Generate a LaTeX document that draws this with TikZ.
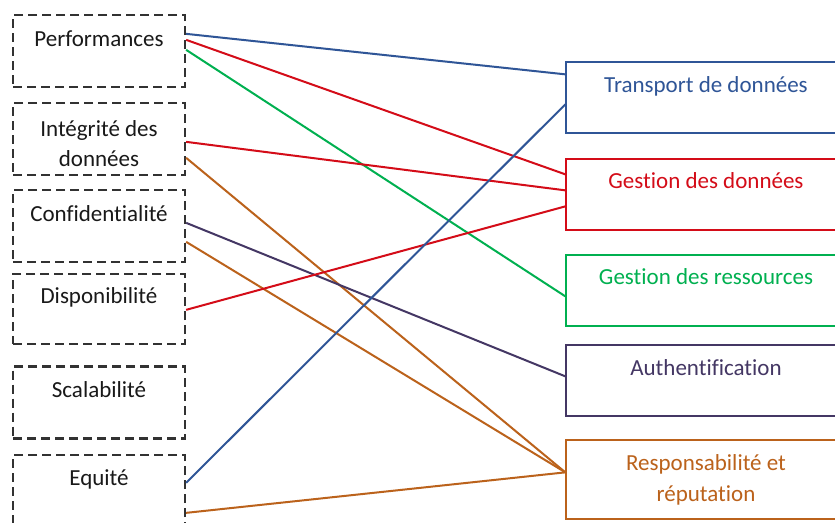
\documentclass[tikz,border=0pt]{standalone}
\usepackage{fontspec}
\setmainfont{Carlito}[Ligatures=NoCommon]
\definecolor{cblue}{RGB}{47,85,151}
\definecolor{cred}{RGB}{212,12,24}
\definecolor{cgreen}{RGB}{0,176,80}
\definecolor{cpurple}{RGB}{68,55,100}
\definecolor{cbrown}{RGB}{187,98,27}
\definecolor{cdash}{RGB}{50,50,50}
\definecolor{ctext}{RGB}{25,25,25}
\tikzset{
  critbox/.style={draw=cdash, line width=2.3pt, dash pattern=on 9pt off 5pt,
    minimum width=172pt, minimum height=72pt, inner sep=0pt},
  svcbox/.style={draw=#1, line width=1.3pt, minimum width=280pt,
    minimum height=71pt, inner sep=0pt},
  lbl/.style={font=\fontsize{23}{30.5}\selectfont, align=center,
    inner sep=0pt, anchor=base},
  link/.style={draw=#1, line width=2pt},
}
\begin{document}
\begin{tikzpicture}[x=1pt,y=-1pt]
\useasboundingbox (0,0) rectangle (835,522);
\fill[white] (0,0) rectangle (835,522);
\begin{scope}
\clip (0,0) rectangle (835,522);

% criteria (dashed boxes, left column)
\node[critbox] (perf)  at (99,51)    {};
\node[critbox] (integ) at (99,139)   {};
\node[critbox] (conf)  at (99,226)   {};
\node[critbox, minimum height=70pt] (dispo) at (99,309) {};
\node[critbox] (scal)  at (99,402.5) {};
\node[critbox] (equi)  at (99,491)   {};

% single-line labels sit on their baseline; two-line labels on the last line's
\node[lbl, text=ctext] (perf-t)  at ([yshift=-33pt]perf.north)  {Performances};
\node[lbl, text=ctext] (integ-t) at ([yshift=-65pt]integ.north) {Intégrité des\\données};
\node[lbl, text=ctext] (conf-t)  at ([yshift=-33pt]conf.north)  {Confidentialité};
\node[lbl, text=ctext] (dispo-t) at ([yshift=-31pt]dispo.north) {Disponibilité};
\node[lbl, text=ctext] (scal-t)  at ([yshift=-32pt]scal.north)  {Scalabilité};
\node[lbl, text=ctext] (equi-t)  at ([yshift=-32pt]equi.north)  {Equité};

% mechanisms (solid boxes, right column)
\node[svcbox=cblue]   (trans) at (706,97.5)  {};
\node[svcbox=cred]    (gdon)  at (706,194.5) {};
\node[svcbox=cgreen]  (gres)  at (706,290.5) {};
\node[svcbox=cpurple] (auth)  at (706,380.5) {};
\node[svcbox=cbrown, minimum height=79pt] (resp) at (706,479.5) {};

\node[lbl, text=cblue]   (trans-t) at ([yshift=-31pt]trans.north) {Transport de données};
\node[lbl, text=cred]    (gdon-t)  at ([yshift=-30pt]gdon.north)  {Gestion des données};
\node[lbl, text=cgreen]  (gres-t)  at ([yshift=-30pt]gres.north)  {Gestion des ressources};
\node[lbl, text=cpurple] (auth-t)  at ([yshift=-31pt]auth.north)  {Authentification};
\node[lbl, text=cbrown]  (resp-t)  at ([yshift=-62pt]resp.north)  {Responsabilité et\\réputation};

% links between criteria and mechanisms
\draw[link=cblue]   ([yshift=-20pt]perf.north east)  -- ([yshift=-13pt]trans.north west);
\draw[link=cred]    ([yshift=-26pt]perf.north east)  -- ([yshift=-16pt]gdon.north west);
\draw[link=cgreen]  ([yshift=-36pt]perf.north east)  -- ([yshift=-42pt]gres.north west);
\draw[link=cred]    ([yshift=-40pt]integ.north east) -- ([yshift=-32pt]gdon.north west);
\draw[link=cbrown]  ([yshift=-56pt]integ.north east) -- ([yshift=-33pt]resp.north west);
\draw[link=cpurple] ([yshift=-34pt]conf.north east)  -- ([yshift=-32pt]auth.north west);
\draw[link=cbrown]  ([yshift=-53pt]conf.north east)  -- ([yshift=-33pt]resp.north west);
\draw[link=cred]    ([yshift=-37pt]dispo.north east) -- ([yshift=-48pt]gdon.north west);
\draw[link=cblue]   ([yshift=-29pt]equi.north east)  -- ([yshift=-43pt]trans.north west);
\draw[link=cbrown]  ([yshift=-59pt]equi.north east)  -- ([yshift=-33pt]resp.north west);
\end{scope}
\end{tikzpicture}
\end{document}
